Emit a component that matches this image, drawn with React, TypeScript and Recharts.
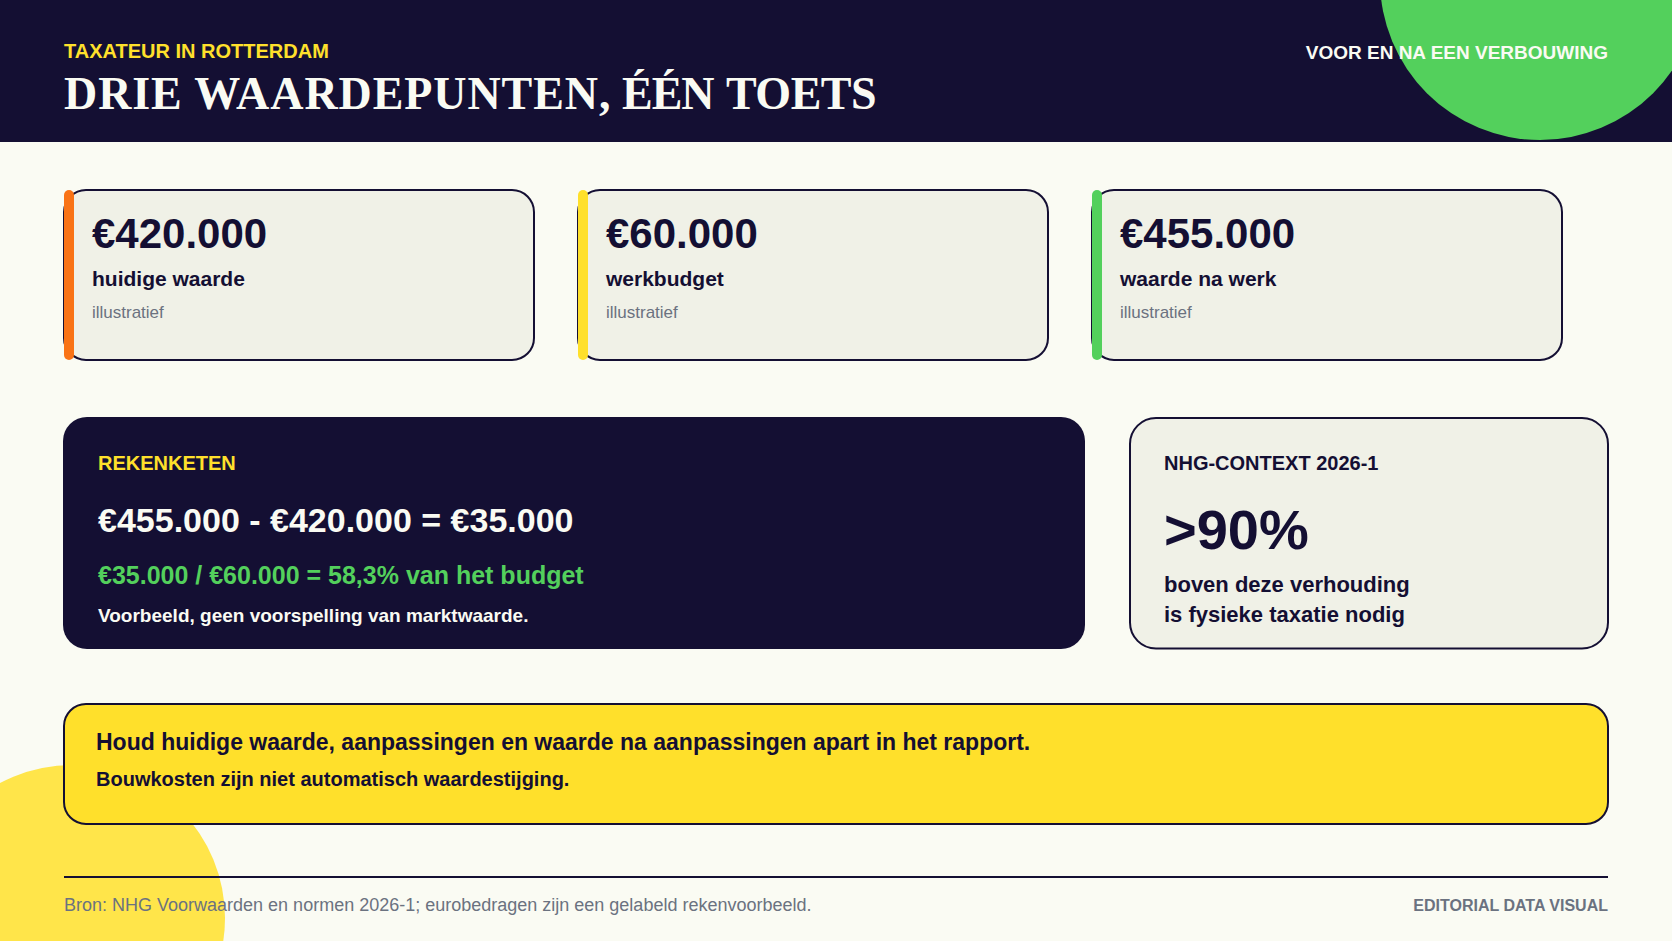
import { ComposedChart, Customized, Line, ReferenceArea, ReferenceDot, ReferenceLine, XAxis, YAxis } from "recharts";

const W = 1672;
const H = 941;

const navy = "#140f33";
const paper = "#fafbf3";
const panel = "#f0f1e7";
const yellow = "#ffe02b";
const green = "#53d05c";
const orange = "#f97316";
const grey = "#6b7280";

// values
const kpiValues = [420000, 60000, 455000];
const kpiLabels = ["huidige waarde", "werkbudget", "waarde na werk"];
const kpiNotes = ["illustratief", "illustratief", "illustratief"];
const kpiColors = [orange, yellow, green];
const chainLines = ["€455.000 - €420.000 = €35.000", "€35.000 / €60.000 = 58,3% van het budget"];
const contextLines = ["boven deze verhouding", "is fysieke taxatie nodig"];

const sans = "'Liberation Sans', Arial, sans-serif";
const serif = "'Liberation Serif', 'Times New Roman', serif";

const euro = (v: number) => "€" + String(v).replace(/\B(?=(\d{3})+$)/g, ".");

const cardX = [64, 578, 1092];
const cardW = 470;

const rows = kpiValues.map((value, i) => ({ x: i, value }));

function T({ x, y, size, fill, weight = 700, anchor = "start", family = sans, spacing = 0, children }: any) {
  return (
    <text x={x} y={y} fontSize={size} fill={fill} fontWeight={weight} textAnchor={anchor} fontFamily={family} letterSpacing={spacing}>
      {children}
    </text>
  );
}

function SlideText() {
  return (
    <g>
      <T x={64} y={58} size={20} fill={yellow}>TAXATEUR IN ROTTERDAM</T>
      <T x={64} y={109} size={46} fill={paper} family={serif}>
        <tspan letterSpacing={0.92}>DRIE WAARDEPUNTEN, </tspan>
        <tspan x={622} letterSpacing={-1}>ÉÉN </tspan>
        <tspan x={726} letterSpacing={-0.5}>TOETS</tspan>
      </T>
      <T x={1608} y={59} size={19} fill={paper} anchor="end">VOOR EN NA EEN VERBOUWING</T>

      {kpiValues.map((v, i) => (
        <g key={kpiLabels[i]}>
          <T x={cardX[i] + 28} y={248} size={42} fill={navy}>{euro(v)}</T>
          <T x={cardX[i] + 28} y={286} size={21} fill={navy}>{kpiLabels[i]}</T>
          <T x={cardX[i] + 28} y={318} size={17} fill={grey} weight={400}>{kpiNotes[i]}</T>
        </g>
      ))}

      <T x={98} y={470} size={20} fill={yellow}>REKENKETEN</T>
      <T x={98} y={532} size={34} fill={paper}>{chainLines[0]}</T>
      <T x={98} y={584} size={25} fill={green}>{chainLines[1]}</T>
      <T x={98} y={622} size={19} fill={paper}>Voorbeeld, geen voorspelling van marktwaarde.</T>

      <T x={1164} y={470} size={20} fill={navy}>NHG-CONTEXT 2026-1</T>
      <T x={1164} y={549} size={56} fill={navy}>&gt;90%</T>
      <T x={1164} y={592} size={22} fill={navy}>{contextLines[0]}</T>
      <T x={1164} y={622} size={22} fill={navy}>{contextLines[1]}</T>

      <T x={96} y={750} size={23} fill={navy}>Houd huidige waarde, aanpassingen en waarde na aanpassingen apart in het rapport.</T>
      <T x={96} y={786} size={20} fill={navy}>Bouwkosten zijn niet automatisch waardestijging.</T>

      <T x={64} y={911} size={18} fill={grey} weight={400}>Bron: NHG Voorwaarden en normen 2026-1; eurobedragen zijn een gelabeld rekenvoorbeeld.</T>
      <T x={1608} y={911} size={16} fill={grey} anchor="end">EDITORIAL DATA VISUAL</T>
    </g>
  );
}

export default function App() {
  return (
    <div style={{ position: "absolute", left: 0, top: 0, width: W, height: H, background: paper, overflow: "hidden" }}>
      <ComposedChart width={W} height={H} margin={{ top: 0, right: 0, bottom: 0, left: 0 }} data={rows}>
        <XAxis type="number" dataKey="x" domain={[0, W]} hide />
        <YAxis type="number" domain={[0, H]} reversed hide allowDataOverflow />
        <Line dataKey="value" stroke="none" dot={false} isAnimationActive={false} legendType="none" />

        <ReferenceArea x1={0} x2={W} y1={0} y2={142} fill={navy} stroke="none" fillOpacity={1} ifOverflow="visible" zIndex={-40} />
        <ReferenceDot x={1540} y={-20} r={160} fill={green} stroke="none" ifOverflow="visible" zIndex={-30} />
        <ReferenceDot x={72} y={918} r={153} fill={yellow} fillOpacity={0.85} stroke="none" ifOverflow="visible" zIndex={-30} />

        {kpiValues.map((v, i) => (
          <ReferenceArea key={v} x1={cardX[i]} x2={cardX[i] + cardW} y1={190} y2={360} radius={22} fill={panel} fillOpacity={1} stroke={navy} strokeWidth={2} ifOverflow="visible" zIndex={-20} />
        ))}
        {kpiColors.map((c, i) => (
          <ReferenceArea key={c} x1={cardX[i]} x2={cardX[i] + 10} y1={190} y2={360} radius={5} fill={c} fillOpacity={1} stroke="none" ifOverflow="visible" zIndex={-10} />
        ))}

        <ReferenceArea x1={63} x2={1085} y1={417} y2={649} radius={24} fill={navy} fillOpacity={1} stroke="none" ifOverflow="visible" zIndex={-20} />
        <ReferenceArea x1={1130} x2={1608} y1={418} y2={648.5} radius={26} fill={panel} fillOpacity={1} stroke={navy} strokeWidth={2} ifOverflow="visible" zIndex={-20} />
        <ReferenceArea x1={64} x2={1608} y1={704} y2={824} radius={22} fill={yellow} fillOpacity={1} stroke={navy} strokeWidth={2} ifOverflow="visible" zIndex={-20} />
        <ReferenceLine segment={[{ x: 64, y: 877 }, { x: 1608, y: 877 }]} stroke={navy} strokeWidth={2} ifOverflow="visible" zIndex={-20} />

        <Customized component={<SlideText />} />
      </ComposedChart>
    </div>
  );
}
